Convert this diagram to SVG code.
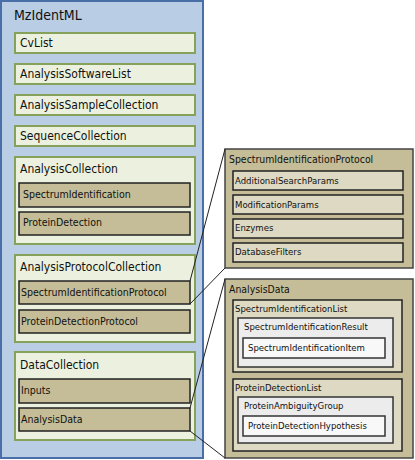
<svg xmlns="http://www.w3.org/2000/svg" width="415" height="460" viewBox="0 0 415 460">
<style>
text{font-family:"DejaVu Sans Condensed","DejaVu Sans",sans-serif;fill:#111}
.outer{fill:#b9cde5;stroke:#4a6fa8;stroke-width:2}
.grn{fill:#ebf1de;stroke:#86a25a;stroke-width:2}
.tan{fill:#c4bd97;stroke:#222;stroke-width:1.5}
.pan{fill:#c4bd97;stroke:#444;stroke-width:1.5}
.lt{fill:#ddd9c3;stroke:#222;stroke-width:1.5}
.gr{fill:#ececec;stroke:#333;stroke-width:1.5}
.wh{fill:#f8f8f8;stroke:#333;stroke-width:1.5}
.t14{font-size:14px}
.t12{font-size:12px}
.t11{font-size:10.5px}
.t10{font-size:10.4px}
.t9{font-size:9.5px}
.c{fill:none;stroke:#222;stroke-width:1}
</style>
<g id="MzIdentML">
<rect class="outer" x="1" y="1" width="202" height="457"/>
<text class="t14" x="14" y="20">MzIdentML</text>
</g>
<g id="CvList"><rect class="grn" x="15" y="33" width="180" height="20"/><text class="t12" x="20" y="47">CvList</text></g>
<g id="AnalysisSoftwareList"><rect class="grn" x="15" y="64" width="180" height="20"/><text class="t12" x="20" y="78">AnalysisSoftwareList</text></g>
<g id="AnalysisSampleCollection"><rect class="grn" x="15" y="95" width="180" height="20"/><text class="t12" x="20" y="109">AnalysisSampleCollection</text></g>
<g id="SequenceCollection"><rect class="grn" x="15" y="126" width="180" height="20"/><text class="t12" x="20" y="140">SequenceCollection</text></g>
<g id="AnalysisCollection">
<rect class="grn" x="15" y="157" width="180" height="87"/>
<text class="t12" x="20" y="173">AnalysisCollection</text>
</g>
<g id="SpectrumIdentification"><rect class="tan" x="19" y="183" width="171" height="24"/><text class="t11" x="23" y="198">SpectrumIdentification</text></g>
<g id="ProteinDetection"><rect class="tan" x="19" y="212" width="171" height="23"/><text class="t11" x="23" y="226">ProteinDetection</text></g>
<g id="AnalysisProtocolCollection">
<rect class="grn" x="15" y="255" width="180" height="87"/>
<text class="t12" x="20" y="271">AnalysisProtocolCollection</text>
</g>
<g id="SpectrumIdentificationProtocol"><rect class="tan" x="19" y="281" width="171" height="23"/><text class="t11" x="21" y="296">SpectrumIdentificationProtocol</text></g>
<g id="ProteinDetectionProtocol"><rect class="tan" x="19" y="310" width="171" height="23"/><text class="t11" x="21" y="325">ProteinDetectionProtocol</text></g>
<g id="DataCollection">
<rect class="grn" x="15" y="352" width="180" height="88"/>
<text class="t12" x="20" y="369">DataCollection</text>
</g>
<g id="Inputs"><rect class="tan" x="19" y="379" width="171" height="24"/><text class="t11" x="21" y="394">Inputs</text></g>
<g id="AnalysisData"><rect class="tan" x="19" y="408" width="171" height="23"/><text class="t11" x="21" y="423">AnalysisData</text></g>

<g id="SIPPanel">
<rect class="pan" x="225" y="149" width="188" height="119"/>
<text class="t10" x="229" y="163">SpectrumIdentificationProtocol</text>
</g>
<g id="AdditionalSearchParams"><rect class="lt" x="233" y="171" width="170" height="19"/><text class="t9" x="235" y="184">AdditionalSearchParams</text></g>
<g id="ModificationParams"><rect class="lt" x="233" y="195" width="170" height="19"/><text class="t9" x="235" y="208">ModificationParams</text></g>
<g id="Enzymes"><rect class="lt" x="233" y="219" width="170" height="19"/><text class="t9" x="235" y="231">Enzymes</text></g>
<g id="DatabaseFilters"><rect class="lt" x="233" y="243" width="170" height="19"/><text class="t9" x="235" y="255">DatabaseFilters</text></g>

<g id="ADPanel">
<rect class="pan" x="225" y="279" width="188" height="179"/>
<text class="t10" x="229" y="293">AnalysisData</text>
</g>
<g id="SpectrumIdentificationList"><rect class="lt" x="233" y="300" width="169" height="72"/><text class="t9" x="235" y="312">SpectrumIdentificationList</text></g>
<g id="SpectrumIdentificationResult"><rect class="gr" x="238" y="318" width="155" height="49"/><text class="t9" x="244" y="330">SpectrumIdentificationResult</text></g>
<g id="SpectrumIdentificationItem"><rect class="wh" x="243" y="338" width="142" height="20"/><text class="t9" x="248" y="351">SpectrumIdentificationItem</text></g>
<g id="ProteinDetectionList"><rect class="lt" x="233" y="379" width="169" height="72"/><text class="t9" x="235" y="391">ProteinDetectionList</text></g>
<g id="ProteinAmbiguityGroup"><rect class="gr" x="238" y="397" width="155" height="46"/><text class="t9" x="244" y="409">ProteinAmbiguityGroup</text></g>
<g id="ProteinDetectionHypothesis"><rect class="wh" x="243" y="416" width="142" height="20"/><text class="t9" x="248" y="429">ProteinDetectionHypothesis</text></g>

<g id="connectors">
<line class="c" x1="190" y1="281" x2="225" y2="149"/>
<line class="c" x1="190" y1="304" x2="225" y2="268"/>
<line class="c" x1="190" y1="408" x2="225" y2="279"/>
<line class="c" x1="190" y1="431" x2="225" y2="458"/>
</g>
</svg>
